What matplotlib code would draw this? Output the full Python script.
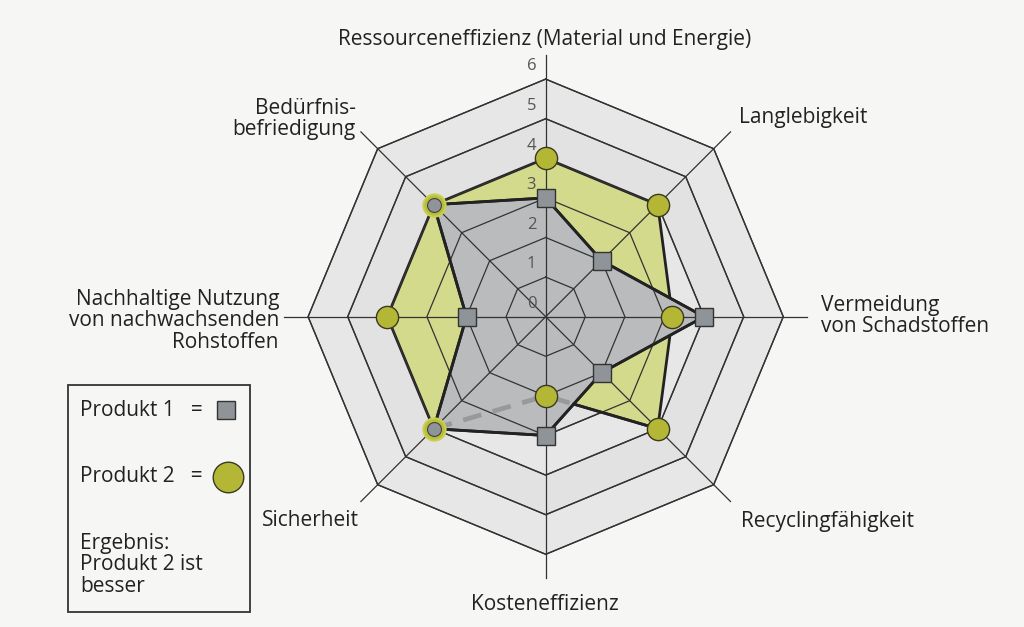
import numpy as np
import matplotlib.pyplot as plt
from matplotlib.patches import Polygon, Rectangle

# axis labels, clockwise from top
kategorien = ['Ressourceneffizienz (Material und Energie)', 'Langlebigkeit',
              'Vermeidung\nvon Schadstoffen', 'Recyclingfähigkeit', 'Kosteneffizienz',
              'Sicherheit', 'Nachhaltige Nutzung\nvon nachwachsenden\nRohstoffen',
              'Bedürfnis-\nbefriedigung']
produkt1 = [3, 2, 4, 2, 3, 4, 2, 4]
produkt2 = [4, 4, 3.2, 4, 2, 4, 4, 4]
stufen = [0, 1, 2, 3, 4, 5, 6]

plt.rcParams['font.family'] = ['Open Sans', 'DejaVu Sans']

n = len(kategorien)
theta = np.arange(n) * 2 * np.pi / n


def xy(r, t):
    return np.asarray(r) * np.sin(t), np.asarray(r) * np.cos(t)


W, H = 1024, 627
cx, cy, unit = 545.7, 316.7, 39.6   # centre in pixels, pixels per unit

fig = plt.figure(figsize=(W / 100, H / 100), dpi=100, facecolor='#f6f7f4')
ax = fig.add_axes([0, 0, 1, 1])
ax.set_xlim(-cx / unit, (W - cx) / unit)
ax.set_ylim(-(H - cy) / unit, cy / unit)
ax.axis('off')


def ftext(px, py, s, **kw):
    # text placed in figure pixels (from top left)
    kw.setdefault('fontsize', 15)
    kw.setdefault('color', '#222222')
    kw.setdefault('linespacing', 1.0)
    fig.text(px / W, 1 - py / H, s, **kw)


# octagon bands
band_cols = ['#e7e7e7', '#e2e2e2']
for k in range(stufen[-1], 0, -1):
    px, py = xy(np.full(n, k), theta)
    ax.add_patch(Polygon(np.column_stack([px, py]), closed=True,
                         facecolor=band_cols[k % 2], edgecolor='#333333', lw=1.0, zorder=1))

# product 2 (olive) below, product 1 (grey) on top
p2x, p2y = xy(produkt2, theta)
p1x, p1y = xy(produkt1, theta)
ax.add_patch(Polygon(np.column_stack([p2x, p2y]), closed=True, facecolor='#d3da8c',
                     edgecolor='#222222', lw=2.0, zorder=2))
ax.add_patch(Polygon(np.column_stack([p1x, p1y]), closed=True, facecolor='#b9bbbd',
                     edgecolor='#222222', lw=2.0, zorder=3))

# grid lines over the fills
for k in stufen[1:]:
    px, py = xy(np.append(np.full(n, k), k), np.append(theta, theta[0]))
    ax.plot(px, py, color='#333333', lw=0.9, zorder=4)
for t in theta:
    sx, sy = xy([0, 6.6], [t, t])
    ax.plot(sx, sy, color='#333333', lw=0.9, zorder=4)

# product 1 outline on top of grid
ax.plot(np.append(p1x, p1x[0]), np.append(p1y, p1y[0]), color='#222222', lw=2.0, zorder=5)

# hidden part of product 2 outline (inside product 1) as dashed line:
# Sicherheit -> Kosten -> crossing with product 1 edge Kosten->Recycling
a = np.array([p2x[4], p2y[4]]); b = np.array([p2x[3], p2y[3]])
c = np.array([p1x[4], p1y[4]]); d = np.array([p1x[3], p1y[3]])
s = np.linalg.solve(np.column_stack([b - a, c - d]), c - a)[0]
cross = a + s * (b - a)
ax.plot([p2x[5], p2x[4], cross[0]], [p2y[5], p2y[4], cross[1]], color='#97999b',
        lw=3.4, dashes=(4, 2.5), zorder=6)
ax.plot([cross[0], p2x[3]], [cross[1], p2y[3]], color='#222222', lw=2.0, zorder=5)

# markers
for i in range(n):
    if produkt1[i] == produkt2[i]:
        ax.plot(p2x[i], p2y[i], 'o', ms=16, mfc='#b9bd3a', mec='#c9cf52', mew=1.5, zorder=7)
        ax.plot(p2x[i], p2y[i], 'o', ms=10, mfc='#8e9497', mec='#444444', mew=0.8, zorder=8)
    else:
        ax.plot(p1x[i], p1y[i], 's', ms=12.5, mfc='#8e9497', mec='#333333', mew=1.0, zorder=7)
        ax.plot(p2x[i], p2y[i], 'o', ms=16, mfc='#b4b636', mec='#3a3a22', mew=1.0, zorder=8)

# scale labels
for k in stufen:
    ax.text(-0.36, k + 0.12, str(k), ha='center', va='bottom', fontsize=12,
            color='#555555', zorder=9)

# category labels
ftext(545, 40, kategorien[0], ha='center', va='center')
ftext(739, 118, kategorien[1], ha='left', va='center')
ftext(821, 316, kategorien[2], ha='left', va='center')
ftext(741, 522, kategorien[3], ha='left', va='center')
ftext(545, 604, kategorien[4], ha='center', va='center')
ftext(359, 520, kategorien[5], ha='right', va='center')
ftext(279, 321, kategorien[6], ha='right', va='center', multialignment='right')
ftext(356, 119, kategorien[7], ha='right', va='center', multialignment='right')

# legend box
fig.add_artist(Rectangle((68 / W, 1 - 612 / H), 182 / W, 227 / H, transform=fig.transFigure,
                         facecolor='none', edgecolor='#333333', lw=1.3))
ftext(80, 410, 'Produkt 1   =', va='center')
ftext(80, 477, 'Produkt 2   =', va='center')
ftext(80, 565, 'Ergebnis:\nProdukt 2 ist\nbesser', va='center')
ax.plot([226 / W], [1 - 410 / H], 's', ms=13, mfc='#8e9497', mec='#333333', mew=1.0,
        transform=fig.transFigure, clip_on=False)
ax.plot([228 / W], [1 - 477 / H], 'o', ms=22, mfc='#b4b636', mec='#3a3a22', mew=1.0,
        transform=fig.transFigure, clip_on=False)

fig.savefig('out.png', dpi=100, facecolor=fig.get_facecolor())
